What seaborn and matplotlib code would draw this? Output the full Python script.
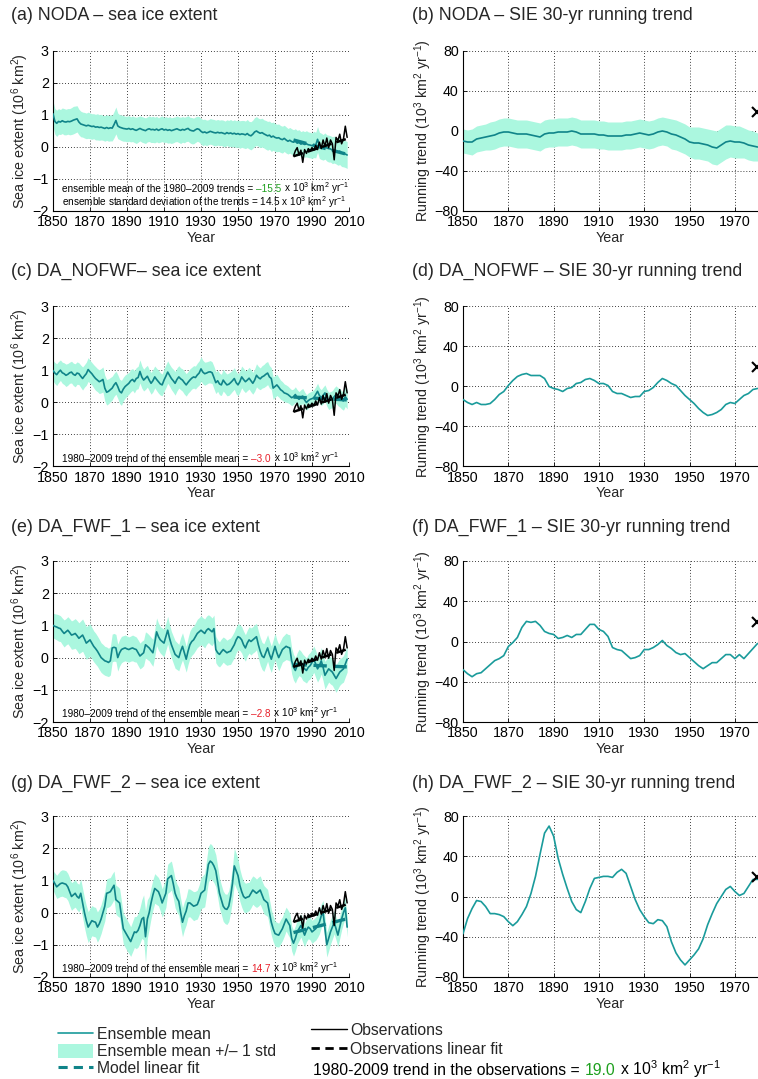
import numpy as np
import matplotlib
matplotlib.use('Agg')
import matplotlib.pyplot as plt
import seaborn as sns
from matplotlib.lines import Line2D
from matplotlib.patches import Patch
from matplotlib import transforms

sns.set_style('ticks')
plt.rcParams['font.family'] = ['Liberation Sans', 'DejaVu Sans']
plt.rcParams['mathtext.fontset'] = 'custom'
plt.rcParams['mathtext.rm'] = 'Liberation Sans'
plt.rcParams['mathtext.it'] = 'Liberation Sans:italic'
plt.rcParams['mathtext.bf'] = 'Liberation Sans:bold'
plt.rcParams['mathtext.default'] = 'regular'

# ---------------- data ----------------
years = list(range(1850, 2010))
trend_years = list(range(1850, 1981, 2))
obs_years = list(range(1980, 2010))
fit_years = [1980, 2009]

# observed sea ice extent anomaly (10^6 km^2)
obs = [-0.28, -0.12, -0.02, -0.25, -0.10, -0.48, -0.08, -0.20, -0.05, -0.12,
       -0.02, -0.10, 0.05, -0.08, 0.15, -0.05, 0.22, 0.02, 0.28, -0.02,
       0.22, 0.10, -0.40, 0.30, 0.20, 0.40, 0.10, 0.25, 0.65, 0.30]
obs_fit = [-0.29, 0.26]

# ensemble means, 1850-2009
mean_noda = [
    1.04, 0.80, 0.74, 0.80, 0.78, 0.82, 0.79, 0.78, 0.80, 0.79,
    0.81, 0.84, 0.86, 0.88, 0.78, 0.72, 0.70, 0.68, 0.66, 0.68,
    0.66, 0.64, 0.65, 0.62, 0.63, 0.61, 0.62, 0.60, 0.58, 0.61,
    0.58, 0.60, 0.59, 0.70, 0.83, 0.66, 0.62, 0.60, 0.58, 0.57,
    0.56, 0.58, 0.55, 0.57, 0.54, 0.52, 0.55, 0.58, 0.55, 0.53,
    0.51, 0.55, 0.57, 0.54, 0.55, 0.53, 0.56, 0.52, 0.55, 0.57,
    0.53, 0.55, 0.52, 0.54, 0.51, 0.53, 0.55, 0.57, 0.54, 0.52,
    0.55, 0.53, 0.56, 0.58, 0.53, 0.51, 0.50, 0.54, 0.57, 0.55,
    0.49, 0.45, 0.47, 0.44, 0.46, 0.49, 0.47, 0.45, 0.44, 0.46,
    0.44, 0.45, 0.43, 0.41, 0.45, 0.42, 0.44, 0.41, 0.43, 0.40,
    0.42, 0.39, 0.41, 0.40, 0.38, 0.42, 0.37, 0.35, 0.40, 0.47,
    0.50, 0.46, 0.43, 0.45, 0.41, 0.38, 0.35, 0.37, 0.31, 0.34,
    0.30, 0.28, 0.29, 0.25, 0.23, 0.27, 0.22, 0.18, 0.21, 0.17,
    0.15, 0.18, 0.12, 0.14, 0.09, 0.11, 0.08, 0.10, 0.07, 0.06,
    0.04, 0.08, 0.06, 0.24, 0.05, 0.02, -0.01, 0.03, -0.03, -0.05,
    -0.06, -0.10, -0.08, -0.12, -0.15, -0.13, -0.18, -0.20, -0.22, -0.25]
std_noda = [
    0.40, 0.40, 0.41, 0.40, 0.39, 0.40, 0.41, 0.40, 0.40, 0.41,
    0.42, 0.43, 0.42, 0.41, 0.40, 0.40, 0.39, 0.40, 0.40, 0.41,
    0.40, 0.40, 0.39, 0.40, 0.41, 0.40, 0.40, 0.39, 0.40, 0.40,
    0.40, 0.41, 0.40, 0.41, 0.42, 0.40, 0.39, 0.40, 0.40, 0.39,
    0.40, 0.40, 0.39, 0.40, 0.40, 0.41, 0.40, 0.39, 0.40, 0.40,
    0.40, 0.39, 0.40, 0.40, 0.41, 0.40, 0.40, 0.39, 0.40, 0.40,
    0.39, 0.40, 0.40, 0.41, 0.40, 0.40, 0.39, 0.40, 0.40, 0.41,
    0.40, 0.40, 0.39, 0.40, 0.40, 0.41, 0.40, 0.40, 0.39, 0.40,
    0.40, 0.41, 0.40, 0.40, 0.39, 0.40, 0.40, 0.41, 0.40, 0.40,
    0.40, 0.40, 0.41, 0.40, 0.40, 0.41, 0.42, 0.41, 0.42, 0.42,
    0.42, 0.43, 0.42, 0.43, 0.43, 0.44, 0.43, 0.44, 0.44, 0.45,
    0.45, 0.44, 0.45, 0.45, 0.44, 0.45, 0.45, 0.44, 0.45, 0.44,
    0.44, 0.43, 0.43, 0.42, 0.42, 0.41, 0.41, 0.40, 0.40, 0.40,
    0.39, 0.39, 0.40, 0.40, 0.39, 0.40, 0.40, 0.41, 0.40, 0.40,
    0.40, 0.41, 0.40, 0.40, 0.41, 0.41, 0.40, 0.41, 0.41, 0.42,
    0.41, 0.42, 0.42, 0.41, 0.42, 0.42, 0.43, 0.42, 0.42, 0.42]

mean_nofwf = [
    1.00, 0.92, 0.87, 0.95, 1.01, 0.93, 0.90, 0.85, 0.88, 0.93,
    0.95, 0.88, 0.85, 0.92, 0.90, 0.82, 0.75, 0.83, 0.90, 1.03,
    0.96, 0.90, 0.82, 0.75, 0.70, 0.65, 0.68, 0.72, 0.45, 0.32,
    0.35, 0.40, 0.45, 0.55, 0.62, 0.50, 0.35, 0.30, 0.42, 0.50,
    0.55, 0.60, 0.68, 0.72, 0.65, 0.75, 0.78, 0.97, 0.80, 0.70,
    0.76, 0.82, 0.70, 0.60, 0.68, 0.80, 0.72, 0.65, 0.58, 0.55,
    0.70, 0.82, 0.95, 0.85, 0.75, 0.68, 0.60, 0.72, 0.80, 0.74,
    0.70, 0.62, 0.55, 0.63, 0.70, 0.76, 0.80, 0.78, 0.86, 0.92,
    1.05, 0.95, 0.90, 0.92, 0.95, 0.96, 0.93, 0.78, 0.62, 0.68,
    0.58, 0.55, 0.70, 0.62, 0.55, 0.57, 0.62, 0.68, 0.75, 0.62,
    0.55, 0.65, 0.80, 0.72, 0.65, 0.70, 0.76, 0.68, 0.60, 0.70,
    0.85, 0.78, 0.74, 0.80, 0.83, 0.88, 0.92, 0.80, 0.75, 0.45,
    0.50, 0.55, 0.48, 0.40, 0.36, 0.30, 0.28, 0.25, 0.20, 0.15,
    0.18, 0.25, 0.15, 0.10, 0.17, 0.20, 0.08, 0.00, 0.06, 0.10,
    0.12, 0.15, 0.25, 0.35, 0.22, 0.15, 0.22, 0.30, 0.15, 0.05,
    0.08, 0.10, 0.18, 0.25, 0.18, 0.15, 0.08, 0.05, 0.18, 0.10]
std_nofwf = [
    0.32, 0.33, 0.34, 0.33, 0.32, 0.33, 0.34, 0.35, 0.34, 0.33,
    0.34, 0.35, 0.36, 0.35, 0.34, 0.35, 0.36, 0.35, 0.36, 0.37,
    0.36, 0.35, 0.36, 0.37, 0.36, 0.37, 0.38, 0.39, 0.40, 0.40,
    0.39, 0.38, 0.37, 0.36, 0.36, 0.37, 0.38, 0.39, 0.37, 0.36,
    0.35, 0.34, 0.35, 0.34, 0.35, 0.34, 0.35, 0.36, 0.35, 0.34,
    0.35, 0.34, 0.33, 0.34, 0.35, 0.34, 0.35, 0.36, 0.35, 0.34,
    0.35, 0.36, 0.35, 0.34, 0.35, 0.36, 0.37, 0.36, 0.35, 0.34,
    0.35, 0.36, 0.35, 0.34, 0.35, 0.34, 0.35, 0.36, 0.37, 0.38,
    0.38, 0.37, 0.36, 0.35, 0.34, 0.35, 0.34, 0.35, 0.34, 0.33,
    0.34, 0.33, 0.34, 0.33, 0.34, 0.35, 0.34, 0.33, 0.34, 0.35,
    0.34, 0.33, 0.34, 0.35, 0.34, 0.33, 0.34, 0.35, 0.34, 0.35,
    0.36, 0.35, 0.34, 0.35, 0.36, 0.37, 0.36, 0.35, 0.34, 0.35,
    0.34, 0.33, 0.31, 0.30, 0.29, 0.28, 0.27, 0.26, 0.25, 0.25,
    0.24, 0.24, 0.25, 0.24, 0.23, 0.24, 0.25, 0.24, 0.24, 0.23,
    0.24, 0.25, 0.24, 0.25, 0.24, 0.25, 0.26, 0.25, 0.26, 0.27,
    0.26, 0.27, 0.28, 0.27, 0.28, 0.29, 0.28, 0.29, 0.30, 0.30]

mean_fwf1 = [
    1.00, 0.97, 0.95, 0.92, 0.90, 0.82, 0.75, 0.80, 0.85, 0.78,
    0.70, 0.72, 0.75, 0.68, 0.60, 0.65, 0.70, 0.58, 0.45, 0.50,
    0.55, 0.45, 0.35, 0.28, 0.20, 0.10, 0.00, -0.05, -0.10, -0.12,
    -0.15, -0.10, 0.30, 0.32, 0.30, 0.00, 0.15, 0.25, 0.28, 0.30,
    0.27, 0.25, 0.28, 0.30, 0.27, 0.25, 0.15, 0.05, 0.10, 0.15,
    0.40, 0.35, 0.30, 0.22, 0.15, 0.45, 0.80, 0.65, 0.55, 0.50,
    0.45, 0.65, 0.85, 0.60, 0.40, 0.25, 0.10, 0.05, 0.00, 0.20,
    0.35, 0.15, -0.05, 0.20, 0.40, 0.50, 0.55, 0.65, 0.75, 0.80,
    0.85, 0.80, 0.75, 0.85, 0.90, 0.85, 0.80, 0.90, 0.25, 0.15,
    0.10, 0.18, 0.25, 0.20, 0.15, 0.18, 0.20, 0.30, 0.40, 0.55,
    0.65, 0.62, 0.55, 0.40, 0.30, 0.45, 0.55, 0.50, 0.55, 0.60,
    0.65, 0.40, 0.20, 0.05, 0.00, 0.15, 0.30, 0.10, -0.05, 0.15,
    0.35, 0.15, 0.00, 0.12, 0.25, 0.30, 0.35, 0.32, 0.30, -0.10,
    -0.30, -0.40, -0.25, -0.15, -0.20, -0.30, -0.35, -0.40, -0.30, -0.25,
    -0.15, -0.05, -0.20, -0.35, -0.25, -0.10, -0.30, -0.55, -0.45, -0.35,
    -0.40, -0.45, -0.55, -0.65, -0.55, -0.45, -0.40, -0.35, -0.20, -0.05]
std_fwf1 = [
    0.38, 0.39, 0.40, 0.41, 0.40, 0.41, 0.42, 0.41, 0.42, 0.43,
    0.44, 0.45, 0.46, 0.47, 0.48, 0.49, 0.50, 0.50, 0.51, 0.50,
    0.50, 0.49, 0.48, 0.48, 0.47, 0.47, 0.46, 0.46, 0.45, 0.45,
    0.44, 0.44, 0.43, 0.43, 0.42, 0.42, 0.41, 0.41, 0.40, 0.40,
    0.40, 0.39, 0.39, 0.40, 0.40, 0.39, 0.40, 0.40, 0.41, 0.40,
    0.40, 0.41, 0.40, 0.41, 0.42, 0.42, 0.43, 0.42, 0.41, 0.42,
    0.43, 0.42, 0.43, 0.42, 0.41, 0.42, 0.43, 0.42, 0.41, 0.42,
    0.42, 0.41, 0.40, 0.41, 0.42, 0.43, 0.42, 0.43, 0.44, 0.44,
    0.45, 0.44, 0.45, 0.44, 0.43, 0.44, 0.43, 0.42, 0.41, 0.40,
    0.39, 0.40, 0.39, 0.40, 0.39, 0.40, 0.41, 0.40, 0.41, 0.40,
    0.41, 0.40, 0.41, 0.42, 0.41, 0.40, 0.41, 0.42, 0.41, 0.42,
    0.41, 0.42, 0.43, 0.42, 0.43, 0.42, 0.41, 0.42, 0.41, 0.40,
    0.41, 0.40, 0.41, 0.40, 0.39, 0.40, 0.41, 0.40, 0.41, 0.40,
    0.40, 0.39, 0.40, 0.41, 0.40, 0.41, 0.40, 0.39, 0.40, 0.41,
    0.40, 0.41, 0.42, 0.41, 0.40, 0.41, 0.42, 0.43, 0.42, 0.41,
    0.42, 0.41, 0.42, 0.43, 0.42, 0.41, 0.40, 0.41, 0.40, 0.40]

mean_fwf2 = [
    1.00, 0.90, 0.80, 0.85, 0.90, 0.92, 0.90, 0.88, 0.80, 0.65,
    0.50, 0.55, 0.60, 0.50, 0.45, 0.60, 0.30, 0.00, -0.25, -0.45,
    -0.35, -0.25, -0.28, -0.30, -0.45, -0.35, -0.20, 0.00, 0.20, 0.60,
    0.62, 0.65, 0.75, 0.85, 0.40, 0.35, 0.30, -0.10, -0.50, -0.60,
    -0.70, -0.80, -0.90, -0.75, -0.60, -0.62, -0.55, -0.40, -0.20, -0.15,
    -0.75, -0.20, 0.00, 0.30, 0.55, 0.75, 0.70, 0.65, 0.50, 0.30,
    0.45, 0.60, 1.05, 1.10, 1.15, 0.90, 0.60, 0.45, 0.35, 0.00,
    -0.30, -0.10, 0.05, 0.30, 0.30, 0.25, 0.20, 0.22, 0.25, 0.40,
    0.60, 0.65, 0.70, 1.10, 1.50, 1.60, 1.55, 1.45, 1.30, 0.95,
    0.60, 0.40, 0.20, 0.12, 0.10, 0.20, 0.50, 0.90, 1.45, 1.30,
    1.15, 0.85, 0.65, 0.50, 0.45, 0.48, 0.50, 0.60, 0.70, 0.65,
    0.60, 0.65, 0.70, 0.55, 0.40, 0.35, 0.30, 0.00, -0.30, -0.50,
    -0.65, -0.68, -0.70, -0.60, -0.50, -0.35, -0.20, -0.30, -0.40, -0.80,
    -0.95, -0.80, -0.60, -0.50, -0.40, -0.55, -0.70, -0.55, -0.45, -0.50,
    -0.60, -0.55, -0.50, -0.40, -0.30, -0.10, 0.00, -0.50, -1.00, -0.80,
    -0.60, -0.45, -0.30, -0.50, -0.70, -0.45, -0.20, 0.00, 0.15, -0.45]
std_fwf2 = [
    0.30, 0.33, 0.36, 0.38, 0.40, 0.41, 0.42, 0.42, 0.42, 0.43,
    0.43, 0.42, 0.43, 0.42, 0.43, 0.44, 0.45, 0.46, 0.47, 0.48,
    0.48, 0.47, 0.46, 0.46, 0.47, 0.46, 0.45, 0.45, 0.46, 0.45,
    0.45, 0.44, 0.45, 0.44, 0.45, 0.46, 0.45, 0.46, 0.47, 0.48,
    0.48, 0.47, 0.46, 0.47, 0.48, 0.50, 0.52, 0.55, 0.60, 0.70,
    0.80, 0.60, 0.50, 0.48, 0.47, 0.46, 0.45, 0.44, 0.45, 0.44,
    0.45, 0.44, 0.45, 0.46, 0.45, 0.44, 0.45, 0.44, 0.43, 0.44,
    0.45, 0.44, 0.43, 0.44, 0.43, 0.44, 0.45, 0.44, 0.45, 0.46,
    0.48, 0.50, 0.52, 0.54, 0.55, 0.55, 0.54, 0.52, 0.50, 0.48,
    0.47, 0.46, 0.47, 0.46, 0.47, 0.48, 0.50, 0.52, 0.55, 0.54,
    0.52, 0.50, 0.48, 0.47, 0.46, 0.45, 0.44, 0.45, 0.44, 0.45,
    0.44, 0.45, 0.44, 0.43, 0.44, 0.43, 0.42, 0.41, 0.40, 0.40,
    0.39, 0.38, 0.37, 0.38, 0.37, 0.38, 0.37, 0.38, 0.38, 0.39,
    0.40, 0.39, 0.38, 0.37, 0.36, 0.37, 0.36, 0.35, 0.36, 0.35,
    0.36, 0.35, 0.36, 0.37, 0.36, 0.37, 0.38, 0.37, 0.38, 0.39,
    0.38, 0.37, 0.36, 0.35, 0.36, 0.35, 0.34, 0.33, 0.32, 0.30]

# 1980-2009 linear fit of the ensemble mean (start, end)
fit_noda = [0.22, -0.23]
fit_nofwf = [0.17, 0.08]
fit_fwf1 = [-0.21, -0.29]
fit_fwf2 = [-0.62, -0.19]

# 30-yr running trends (10^3 km^2 yr^-1), start years 1850-1980 every 2 yr
trend_noda = [
    -10, -11, -11, -8, -7, -6, -5, -4, -2, -1,
    -1, -2, -3, -3, -3, -4, -5, -6, -3, -2,
    -2, -1, -1, -1, 0, -1, -3, -3, -3, -3,
    -4, -4, -5, -5, -5, -5, -4, -4, -3, -2,
    -3, -4, -3, -1, 0, -1, -3, -4, -6, -8,
    -11, -12, -12, -13, -14, -16, -17, -14, -11, -10,
    -11, -11, -12, -14, -15, -16]
trend_std_noda = [
    12, 12, 13, 13, 13, 13, 14, 14, 14, 14,
    14, 14, 14, 14, 14, 14, 14, 14, 14, 14,
    14, 14, 14, 14, 14, 14, 14, 14, 14, 14,
    14, 14, 14, 14, 14, 14, 14, 14, 14, 14,
    14, 14, 14, 14, 14, 14, 15, 15, 15, 15,
    15, 16, 16, 16, 16, 17, 17, 17, 17, 16,
    16, 16, 15, 15, 15, 14]
trend_nofwf = [
    -13, -16, -18, -16, -18, -18, -17, -13, -8, -5,
    1, 6, 10, 12, 13, 11, 11, 11, 8, 0,
    -2, -3, -5, -2, -1, 3, 4, 7, 8, 6,
    3, 3, 1, -5, -7, -7, -9, -11, -10, -10,
    -5, -4, -1, 4, 8, 6, 3, 1, -4, -9,
    -13, -17, -22, -26, -29, -28, -26, -23, -18, -16,
    -17, -13, -9, -7, -3, -2]
trend_fwf1 = [
    -28, -32, -35, -32, -31, -27, -23, -19, -17, -14,
    -5, -1, 4, 14, 20, 19, 20, 16, 10, 8,
    7, 3, 4, 6, 4, 7, 7, 12, 17, 17,
    12, 10, 5, -6, -8, -9, -13, -17, -16, -14,
    -8, -8, -6, -3, 1, -4, -7, -11, -13, -12,
    -16, -20, -24, -27, -24, -21, -21, -17, -13, -13,
    -17, -13, -17, -12, -7, -2]
trend_fwf2 = [
    -37, -22, -12, -4, -5, -10, -17, -17, -18, -20,
    -25, -29, -25, -18, -10, 3, 20, 42, 63, 70,
    60, 38, 22, 8, -5, -13, -16, -5, 8, 18,
    19, 20, 20, 19, 24, 27, 23, 10, -3, -13,
    -20, -26, -27, -23, -24, -30, -45, -56, -63, -68,
    -63, -58, -52, -42, -28, -17, -7, 0, 7, 10,
    5, 1, 3, 10, 17, 17]
obs_trend = 19.0

# ---------------- style ----------------
TEAL = '#108489'
TEAL_R = '#1a9b9b'
BAND = '#abf7df'
GREEN = '#1fa01f'
RED = '#e8202a'
TICK_FS = 10.3
TITLE_FS = 12.8

W, H = 758, 1079
fig = plt.figure(figsize=(W / 100, H / 100), dpi=100)
renderer = fig.canvas.get_renderer()


def px_axes(x0, x1, top, bottom):
    return fig.add_axes([x0 / W, 1 - bottom / H, (x1 - x0) / W, (bottom - top) / H])


def style_axes(ax):
    for s in ['top', 'right']:
        ax.spines[s].set_visible(False)
    for s in ['left', 'bottom']:
        ax.spines[s].set_linewidth(0.8)
        ax.spines[s].set_color('k')
    ax.grid(True, color='k', ls=(0, (1, 2.5)), lw=0.6)
    ax.tick_params(direction='in', length=3, width=0.6, labelsize=TICK_FS,
                   colors='k', pad=3)
    ax.set_xlabel('Year', fontsize=TICK_FS, labelpad=1)


def rainbow_text(x, y, pieces, fontsize, transform):
    tr = transform
    for s, c in pieces:
        t = fig.text(x, y, s, color=c, fontsize=fontsize, transform=tr,
                     ha='left', va='baseline')
        ex = t.get_window_extent(renderer)
        tr = transforms.offset_copy(t.get_transform(), x=ex.width + 0.5, units='dots')


rows = [(51, 211), (306.5, 466.5), (561, 722), (816, 977)]
left_x = (53, 349)
right_x = (463, 757.5)

panels = [
    ('(a) NODA \u2013 sea ice extent', '(b) NODA \u2013 SIE 30-yr running trend',
     mean_noda, std_noda, fit_noda, trend_noda, trend_std_noda),
    ('(c) DA_NOFWF\u2013 sea ice extent', '(d) DA_NOFWF \u2013 SIE 30-yr running trend',
     mean_nofwf, std_nofwf, fit_nofwf, trend_nofwf, None),
    ('(e) DA_FWF_1 \u2013 sea ice extent', '(f) DA_FWF_1 \u2013 SIE 30-yr running trend',
     mean_fwf1, std_fwf1, fit_fwf1, trend_fwf1, None),
    ('(g) DA_FWF_2 \u2013 sea ice extent', '(h) DA_FWF_2 \u2013 SIE 30-yr running trend',
     mean_fwf2, std_fwf2, fit_fwf2, trend_fwf2, None),
]
notes = [None,
         ('\u20133.0', RED),
         ('\u20132.8', RED),
         ('14.7', RED)]
title_y = [16, 271, 527, 783]
unit3 = ' x 10$^3$ km$^2$ yr$^{-1}$'

for i, (tl, tr_, mean, std, fit, trend, tstd) in enumerate(panels):
    top, bottom = rows[i]
    mean = np.array(mean)
    std = np.array(std)

    # ---- left: sea ice extent ----
    ax = px_axes(left_x[0], left_x[1], top, bottom)
    ax.fill_between(years, mean - std, mean + std, color=BAND, lw=0, zorder=2)
    sns.lineplot(x=years, y=mean, ax=ax, color=TEAL, lw=1.2, zorder=3)
    sns.lineplot(x=fit_years, y=fit, ax=ax, color=TEAL, lw=2.4,
                 linestyle=(0, (4, 2)), zorder=4)
    sns.lineplot(x=obs_years, y=obs, ax=ax, color='k', lw=1.1, zorder=5)
    sns.lineplot(x=fit_years, y=obs_fit, ax=ax, color='k', lw=1.8,
                 linestyle=(0, (4, 2)), zorder=6)
    ax.set_xlim(1850, 2010)
    ax.set_ylim(-2, 3)
    ax.set_xticks(range(1850, 2011, 20))
    ax.set_yticks(range(-2, 4))
    style_axes(ax)
    ax.set_ylabel('Sea ice extent (10$^6$ km$^2$)', fontsize=TICK_FS, labelpad=1)
    fig.text(11 / W, 1 - title_y[i] / H, tl, fontsize=TITLE_FS, ha='left', va='center')

    if i == 0:
        rainbow_text(0.03, 0.12, [('ensemble mean of the 1980\u20132009 trends = ', 'k'),
                                   ('\u201315.5', GREEN), (unit3, 'k')], 7.2, ax.transAxes)
        rainbow_text(0.03, 0.03, [('ensemble standard deviation of the trends = 14.5' + unit3, 'k')],
                     7.2, ax.transAxes)
    else:
        val, col = notes[i]
        rainbow_text(0.03, 0.03, [('1980\u20132009 trend of the ensemble mean = ', 'k'),
                                   (val, col), (unit3, 'k')], 7.2, ax.transAxes)

    # ---- right: running trend ----
    axr = px_axes(right_x[0], right_x[1], top, bottom)
    trend = np.array(trend)
    if tstd is not None:
        tstd = np.array(tstd)
        axr.fill_between(trend_years, trend - tstd, trend + tstd, color=BAND, lw=0, zorder=2)
        sns.lineplot(x=trend_years, y=trend, ax=axr, color=TEAL, lw=1.2, zorder=3)
    else:
        sns.lineplot(x=trend_years, y=trend, ax=axr, color=TEAL_R, lw=1.2, zorder=3)
    axr.plot([1980], [obs_trend], marker='x', color='k', ms=7, mew=1.5,
             clip_on=False, zorder=6)
    axr.set_xlim(1850, 1980)
    axr.set_ylim(-80, 80)
    axr.set_xticks(range(1850, 1971, 20))
    axr.set_yticks([-80, -40, 0, 40, 80])
    style_axes(axr)
    axr.set_ylabel('Running trend (10$^3$ km$^2$ yr$^{-1}$)', fontsize=TICK_FS, labelpad=0.5)
    fig.text(412 / W, 1 - title_y[i] / H, tr_, fontsize=TITLE_FS, ha='left', va='center')

# ---------------- legends ----------------
LEG_FS = 11.3
h_left = [Line2D([], [], color=TEAL_R, lw=1.2),
          Patch(facecolor=BAND, edgecolor='none'),
          Line2D([], [], color=TEAL, lw=2.2, ls=(0, (3, 2)))]
fig.legend(h_left, ['Ensemble mean', 'Ensemble mean +/\u2013 1 std', 'Model linear fit'],
           loc='upper left', bbox_to_anchor=(58 / W, 1 - 1027 / H), frameon=False,
           fontsize=LEG_FS, handlelength=2.2, handleheight=0.95, handletextpad=0.3,
           labelspacing=0.12, borderpad=0, borderaxespad=0)
h_right = [Line2D([], [], color='k', lw=1.0),
           Line2D([], [], color='k', lw=2.0, ls=(0, (3, 2)))]
fig.legend(h_right, ['Observations', 'Observations linear fit'],
           loc='upper left', bbox_to_anchor=(311 / W, 1 - 1023 / H), frameon=False,
           fontsize=LEG_FS, handlelength=2.3, handleheight=0.95, handletextpad=0.2,
           labelspacing=0.24, borderpad=0, borderaxespad=0)
rainbow_text(313 / W, 1 - 1075 / H, [('1980-2009 trend in the observations = ', 'k'),
                                      ('19.0', GREEN), (unit3, 'k')], LEG_FS, fig.transFigure)

fig.savefig('out.png', dpi=100)
